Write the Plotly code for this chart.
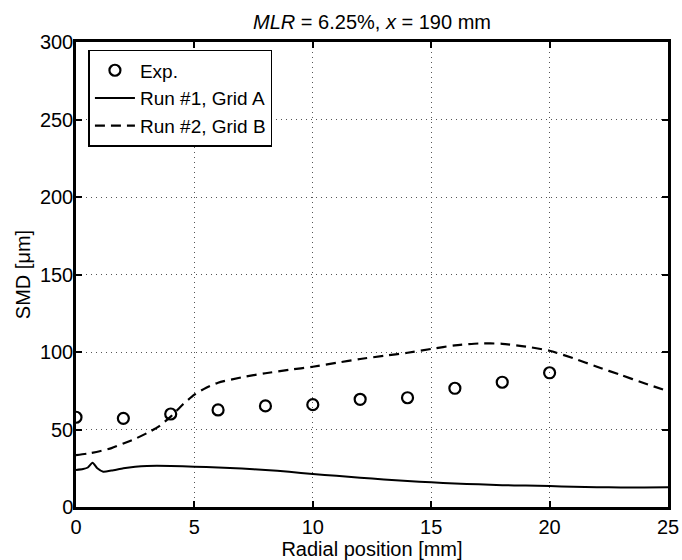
import plotly.graph_objects as go

# Experimental data
exp_x = [0, 2, 4, 6, 8, 10, 12, 14, 16, 18, 20]
exp_y = [57.9, 57.2, 60.0, 62.6, 65.2, 66.0, 69.5, 70.5, 76.6, 80.5, 86.6]

# Run #1, Grid A (solid)
run1_x = [0, 0.3, 0.5, 0.7, 0.9, 1.15, 1.5, 2, 2.5, 3, 4, 5, 6, 7, 8, 9, 10, 11, 12,
          13, 14, 15, 16, 17, 18, 19, 20, 21, 22, 23, 24, 25]
run1_y = [23.9, 24.5, 25.5, 28.6, 25.0, 22.8, 23.5, 25.0, 26.0, 26.5, 26.5, 26.0, 25.5,
          24.8, 23.9, 22.7, 21.3, 20.1, 18.9, 17.8, 16.8, 15.9, 15.2, 14.6, 14.1, 13.8,
          13.5, 13.1, 12.8, 12.6, 12.6, 12.7]

# Run #2, Grid B (dashed)
run2_x = [0, 0.5, 1, 1.5, 2, 2.5, 3, 3.5, 4, 4.5, 5, 5.5, 6, 7, 8, 9, 10, 11, 12, 13,
          14, 15, 16, 17, 18, 19, 20, 21, 22, 23, 24, 25]
run2_y = [33.5, 34.5, 36.0, 38.0, 41.0, 44.0, 47.7, 52.0, 58.3, 66.0, 72.5, 77.0, 80.2,
          83.7, 86.3, 88.5, 90.5, 93.0, 95.5, 97.5, 99.5, 102.0, 104.3, 105.5, 105.3,
          103.5, 100.8, 96.0, 90.5, 85.2, 79.8, 74.8]

x_ticks = [0, 5, 10, 15, 20, 25]
y_ticks = [0, 50, 100, 150, 200, 250, 300]

FONT = "Liberation Sans, Arial, Helvetica, sans-serif"

fig = go.Figure()
fig.add_trace(go.Scatter(
    x=exp_x, y=exp_y, mode="markers", name="Exp.",
    marker=dict(symbol="circle-open", size=11, color="black", line=dict(width=2.2, color="black")),
))
fig.add_trace(go.Scatter(
    x=run1_x, y=run1_y, mode="lines", name="Run #1, Grid A",
    line=dict(color="black", width=2, shape="spline", smoothing=0.6),
))
fig.add_trace(go.Scatter(
    x=run2_x, y=run2_y, mode="lines", name="Run #2, Grid B",
    line=dict(color="black", width=2.2, dash="10px,6px", shape="spline", smoothing=0.6),
))

axis_common = dict(
    showline=True, linecolor="black", linewidth=2.5, mirror="allticks",
    ticks="inside", ticklen=6, tickwidth=1.5, tickcolor="black",
    showgrid=True, gridcolor="#555555", gridwidth=1, griddash="1px,4px",
    zeroline=False, tickfont=dict(family=FONT, size=20, color="black"),
    automargin=False,
)

fig.update_xaxes(
    range=[0, 25], tickvals=x_ticks, ticktext=[str(v) for v in x_ticks],
    title=dict(text="Radial position [mm]", font=dict(family=FONT, size=20, color="black"), standoff=0),
    **axis_common,
)
fig.update_yaxes(
    range=[0, 300], tickvals=y_ticks, ticktext=[str(v) for v in y_ticks],
    title=dict(text="SMD [μm]", font=dict(family=FONT, size=20, color="black"), standoff=4),
    ticklabelstandoff=-4,
    **axis_common,
)

fig.update_layout(
    width=682, height=560,
    margin=dict(l=76, r=14, t=42, b=53, autoexpand=False),
    paper_bgcolor="white", plot_bgcolor="white",
    font=dict(family=FONT, size=20, color="black"),
    title=dict(text="<i>MLR</i> = 6.25%, <i>x</i> = 190 mm", x=0.5, xanchor="center",
               xref="paper", y=1 - 21.7 / 560, yanchor="middle",
               font=dict(family=FONT, size=20, color="black")),
    legend=dict(
        x=0.021, y=0.983, xanchor="left", yanchor="top",
        bgcolor="white", bordercolor="black", borderwidth=1.5,
        font=dict(family=FONT, size=19, color="black"),
        itemwidth=40, tracegroupgap=0,
    ),
    showlegend=True,
)

fig.write_html(
    "out.html",
    config={"displayModeBar": False},
    post_script="document.body.style.margin='0';document.body.style.overflow='hidden';",
)
